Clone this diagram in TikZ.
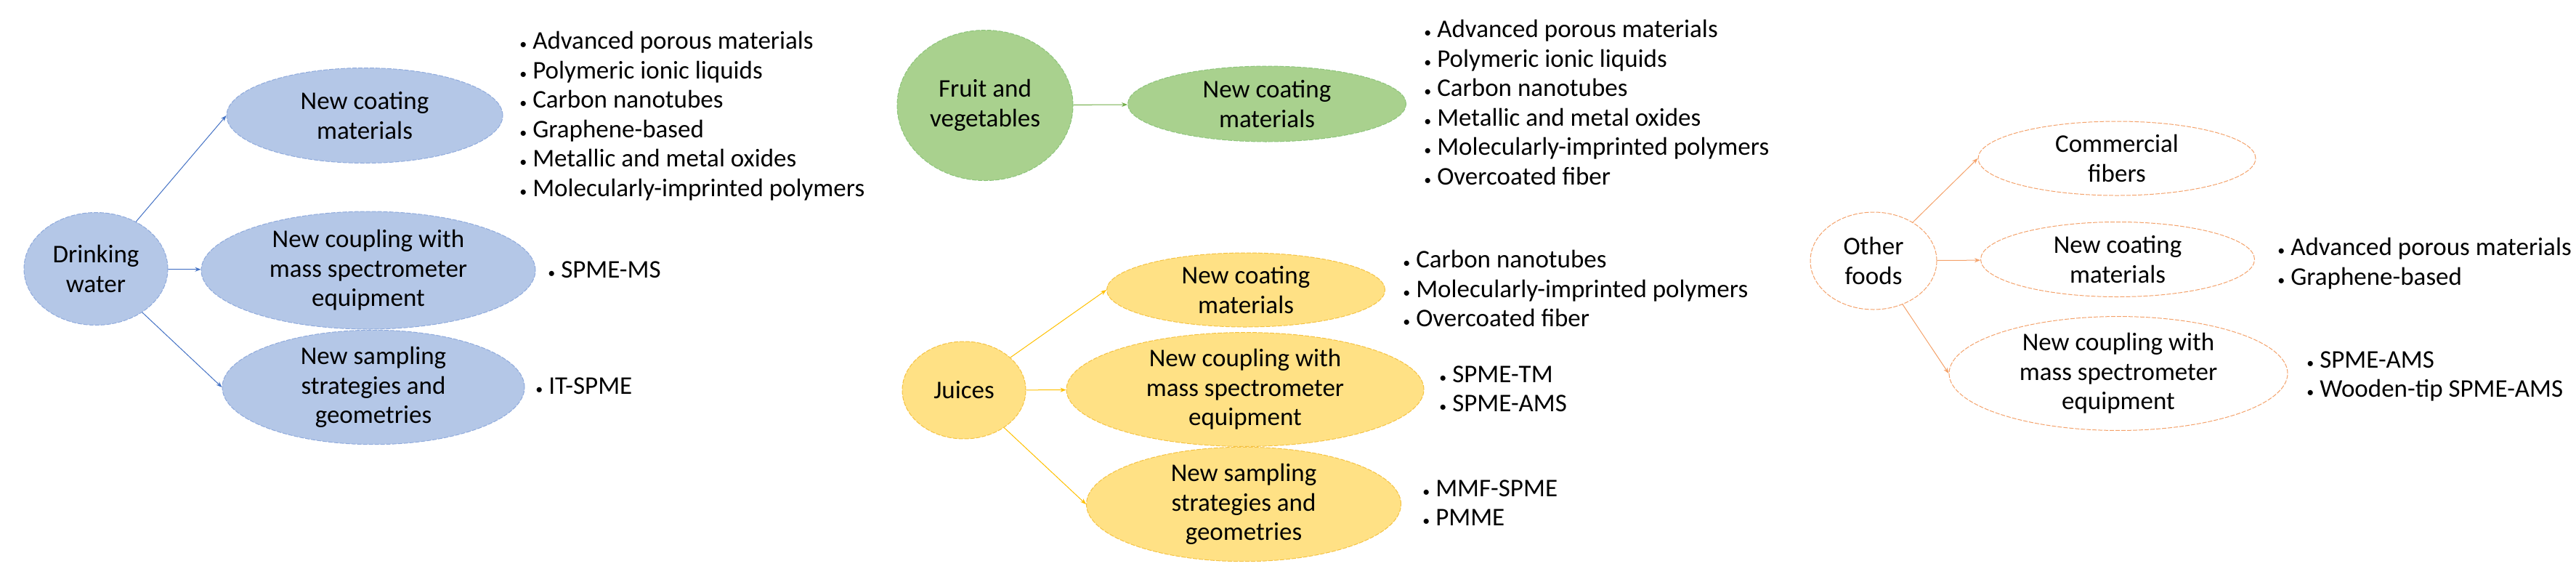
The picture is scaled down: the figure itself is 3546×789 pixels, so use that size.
\documentclass[tikz,border=0pt]{standalone}
\usepackage{fontspec}
\setmainfont{Carlito}
\usetikzlibrary{shapes.geometric,arrows.meta}
\definecolor{bfill}{HTML}{B4C7E7}\definecolor{bline}{HTML}{4472C4}\definecolor{bdraw}{HTML}{8FAADC}
\definecolor{gfill}{HTML}{A9D18E}\definecolor{gline}{HTML}{70AD47}\definecolor{gdraw}{HTML}{8CC47A}
\definecolor{yfill}{HTML}{FFD966}\definecolor{yline}{HTML}{FFC000}\definecolor{ydraw}{HTML}{F5C242}
\definecolor{oline}{HTML}{F4A26B}
\newcommand{\bu}{{\fontsize{10}{10}\selectfont\textbullet}\ }
\begin{document}
\begin{tikzpicture}[x=0.5pt,y=-0.5pt,
  every node/.style={font=\fontsize{17.5}{20.25}\selectfont,align=center,inner sep=0pt},
  el/.style={ellipse,line width=0.5pt,dashed,dash pattern=on 3pt off 1pt},
  bl/.style={el,fill=bfill,draw=bdraw},
  gr/.style={el,fill=gfill,draw=gdraw},
  ye/.style={el,fill=yfill!80,draw=ydraw},
  ora/.style={el,draw=oline,fill=white},
  bul/.style={anchor=north west,align=left},
  ab/.style={draw=bline,line width=0.5pt,-{Stealth[length=4pt,width=3pt]}},
  ag/.style={draw=gline,line width=0.5pt,-{Stealth[length=4pt,width=3pt]}},
  ay/.style={draw=yline,line width=0.5pt,-{Stealth[length=4pt,width=3pt]}},
  ao/.style={draw=oline,line width=0.5pt,-{Stealth[length=4pt,width=3pt]}},
  sz/.style 2 args={minimum width=#1*0.5pt,minimum height=#2*0.5pt}]
\useasboundingbox (0,0) rectangle (3546,789);
% Drinking water
\node[bl,sz={198}{155}] (dw) at (132,370) {Drinking\\water};
\node[bl,sz={380}{131}] (dw1) at (502,159) {New coating\\materials};
\node[bl,sz={460}{162}] (dw2) at (507,372) {New coupling with\\mass spectrometer\\equipment};
\node[bl,sz={416}{143}] (dw3) at (514,533) {New sampling\\strategies and\\geometries};
\draw[ab] (dw) -- (dw1.west);
\draw[ab] (dw) -- (dw2);
\draw[ab] (dw) -- (dw3.west);
\node[bul] (dwb1) at (715,43) {\bu Advanced porous materials\\\bu Polymeric ionic liquids\\\bu Carbon nanotubes\\\bu Graphene-based\\\bu Metallic and metal oxides\\\bu Molecularly-imprinted polymers};
\node[bul] (dwb2) at (754,359) {\bu SPME-MS};
\node[bul] (dwb3) at (737,519) {\bu IT-SPME};
% Fruit
\node[gr,sz={242}{207}] (fv) at (1356,145) {Fruit and\\vegetables};
\node[gr,sz={383}{104}] (fv1) at (1744,143) {New coating\\materials};
\draw[ag] (fv) -- (fv1);
\node[bul] (fvb) at (1960,27) {\bu Advanced porous materials\\\bu Polymeric ionic liquids\\\bu Carbon nanotubes\\\bu Metallic and metal oxides\\\bu Molecularly-imprinted polymers\\\bu Overcoated fiber};
% Juices
\node[ye,sz={170}{134}] (ju) at (1327,537) {Juices};
\node[ye,sz={383}{102}] (ju1) at (1715,399) {New coating\\materials};
\node[ye,sz={492}{142}] (ju2) at (1714,536) {New coupling with\\mass spectrometer\\equipment};
\node[ye,sz={433}{141}] (ju3) at (1712,694) {New sampling\\strategies and\\geometries};
\draw[ay] (ju) -- (ju1.west);
\draw[ay] (ju) -- (ju2);
\draw[ay] (ju) -- (ju3.west);
\node[bul] (jub1) at (1931,344) {\bu Carbon nanotubes\\\bu Molecularly-imprinted polymers\\\bu Overcoated fiber};
\node[bul] (jub2) at (1981,503) {\bu SPME-TM\\\bu SPME-AMS};
\node[bul] (jub3) at (1958,660) {\bu MMF-SPME\\\bu PMME};
% Other foods
\node[ora,sz={174}{134}] (of) at (2579,359) {Other\\foods};
\node[ora,sz={382}{102}] (of1) at (2914,218) {Commercial\\fibers};
\node[ora,sz={377}{103}] (of2) at (2915,357) {New coating\\materials};
\node[ora,sz={466}{143}] (of3) at (2916,514) {New coupling with\\mass spectrometer\\equipment};
\draw[ao] (of) -- (of1.west);
\draw[ao] (of) -- (of2);
\draw[ao] (of) -- (of3.west);
\node[bul] (ofb2) at (3135,327) {\bu Advanced porous materials\\\bu Graphene-based};
\node[bul] (ofb3) at (3175,483) {\bu SPME-AMS\\\bu Wooden-tip SPME-AMS};
\end{tikzpicture}
\end{document}
